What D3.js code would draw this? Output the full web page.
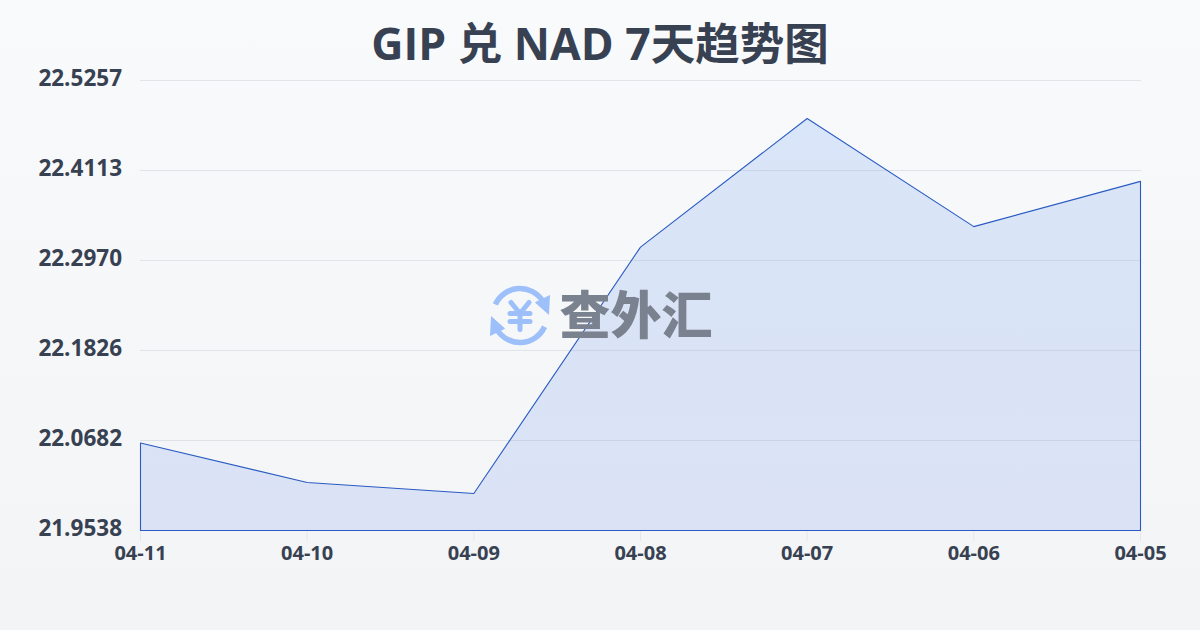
<!DOCTYPE html>
<html><head><meta charset="utf-8">
<script src="https://cdn.jsdelivr.net/npm/d3@7/dist/d3.min.js"></script>
<style>html,body{margin:0;padding:0;background:#f5f6f9}svg{display:block}</style>
</head><body><div id="chart"></div>
<script>
const titleText = "GIP 兑 NAD 7天趋势图";
const dates = ["04-11","04-10","04-09","04-08","04-07","04-06","04-05"];
const rates = [22.0650,22.0148,22.0008,22.3140,22.4774,22.3400,22.3975];
const yTickLabels = ["21.9538","22.0682","22.1826","22.2970","22.4113","22.5257"];
const logoText = "查外汇";
const W=1200,H=630,font='"Open Sans","Noto Sans CJK SC",sans-serif';
const svg=d3.select("#chart").append("svg").attr("width",W).attr("height",H);
const defs=svg.append("defs");
const bg=defs.append("linearGradient").attr("id","bg").attr("x1",0).attr("y1",0).attr("x2",0).attr("y2",1);
bg.append("stop").attr("offset",0).attr("stop-color","#f9fafc");
bg.append("stop").attr("offset",1).attr("stop-color","#f3f4f6");
const af=defs.append("linearGradient").attr("id","af").attr("gradientUnits","userSpaceOnUse").attr("x1",0).attr("y1",118).attr("x2",0).attr("y2",530);
af.append("stop").attr("offset",0).attr("stop-color","#d9e5f8");
af.append("stop").attr("offset",1).attr("stop-color","#dbe2f5");
svg.append("rect").attr("width",W).attr("height",H).attr("fill","url(#bg)");
const x=d3.scalePoint().domain(dates).range([140.5,1140.5]);
const y=d3.scaleLinear().domain([+yTickLabels[0],+yTickLabels[5]]).range([530.5,80.5]);
// area fill under the grid
const area=d3.area().x((d,i)=>x(dates[i])).y0(y.range()[0]).y1(d=>y(d));
svg.append("path").datum(rates).attr("d",area).attr("fill","url(#af)");
// grid
svg.append("g").selectAll("line").data(yTickLabels.slice(1)).join("line")
 .attr("x1",140).attr("x2",1141).attr("y1",d=>y(+d)).attr("y2",d=>y(+d))
 .attr("stroke","#9ca3af").attr("stroke-opacity",0.24).attr("stroke-width",1);
// x ticks
svg.append("g").selectAll("line").data(dates).join("line")
 .attr("x1",d=>x(d)).attr("x2",d=>x(d)).attr("y1",530).attr("y2",541)
 .attr("stroke","#e5e7eb").attr("stroke-width",1);
svg.append("path").datum(rates).attr("d",area)
 .attr("fill","none").attr("stroke","#2a5bc2").attr("stroke-width",1.1).attr("stroke-linejoin","round");
// logo
const logo=svg.append("g");
const c=[520,315.5];
const blue="#9dbffa";
const g=logo.append("g").attr("transform",`translate(${c[0]},${c[1]})`);
const arc=d3.arc().innerRadius(27).outerRadius(27);
function ringPath(a0,a1){return arc({startAngle:a0,endAngle:a1});}
[[ -1.15,1.0],[2.0,4.15]].forEach(r=>{
 g.append("path").attr("d",ringPath(r[0],r[1])).attr("fill","none").attr("stroke",blue).attr("stroke-width",5.5).attr("stroke-linecap","round");
});
g.append("path").attr("d",d3.line()([[29,-1],[15.5,-13],[30,-20]])).attr("fill",blue).attr("stroke",blue).attr("stroke-width",1).attr("stroke-linejoin","round");
g.append("path").attr("d",d3.line()([[-29,1],[-15.5,13],[-30,20]])).attr("fill",blue).attr("stroke",blue).attr("stroke-width",1).attr("stroke-linejoin","round");
g.append("path").attr("d","M-9,-13L0,-2L9,-13M-10,-2H10M-10,6H10M0,-2V14").attr("fill","none").attr("stroke",blue).attr("stroke-width",5).attr("stroke-linecap","round").attr("stroke-linejoin","round");
logo.append("text").attr("x",636).attr("y",333.5).attr("text-anchor","middle")
 .attr("font-family",'"Noto Sans CJK SC",sans-serif').attr("font-weight",900).attr("font-size",51)
 .attr("fill","#7a818f").text(logoText);
// labels
svg.append("g").selectAll("text").data(yTickLabels).join("text")
 .attr("x",122).attr("y",d=>y(+d)-3).attr("dy","0.36em").attr("text-anchor","end")
 .attr("font-family",font).attr("font-weight",700).attr("font-size",22.5).attr("fill","#374151").text(d=>d);
svg.append("g").selectAll("text").data(dates).join("text")
 .attr("x",d=>x(d)).attr("y",560).attr("text-anchor","middle")
 .attr("font-family",font).attr("font-weight",700).attr("font-size",20).attr("fill","#374151").text(d=>d);
svg.append("text").attr("x",600).attr("y",60).attr("text-anchor","middle")
 .attr("font-family",font).attr("font-weight",700).attr("font-size",44.5).attr("fill","#374151").text(titleText);
</script></body></html>
